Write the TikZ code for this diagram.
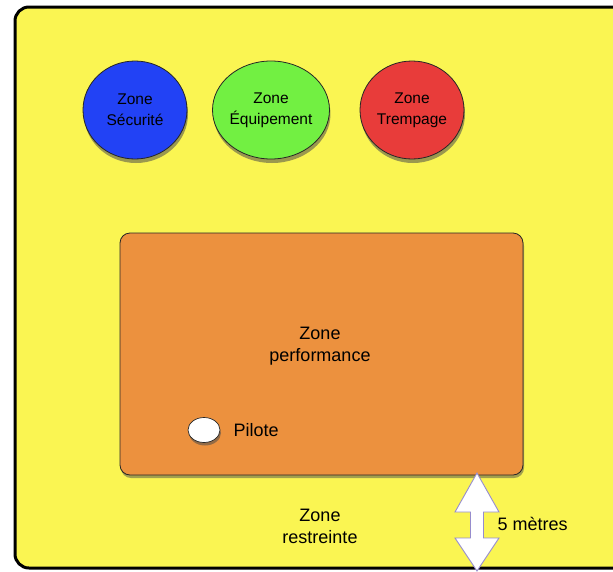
\documentclass[tikz,border=0pt]{standalone}
\usepackage{fontspec}
\setmainfont{Liberation Sans}
\usetikzlibrary{shadows}
\definecolor{bgyellow}{RGB}{250,245,82}
\definecolor{zblue}{RGB}{34,66,245}
\definecolor{zgreen}{RGB}{114,240,66}
\definecolor{zred}{RGB}{232,60,58}
\definecolor{zorange}{RGB}{236,145,62}
\definecolor{arrowline}{RGB}{150,140,205}
\tikzset{
  zonecircle/.style={ellipse, draw=black!85, line width=0.8pt, minimum width=104pt, minimum height=98pt, inner sep=0pt, align=center,
     font=\fontsize{15.5}{21}\selectfont, drop shadow={shadow xshift=1pt, shadow yshift=-4pt, opacity=0.55, fill=black!70}},
  bigtext/.style={align=center, font=\fontsize{18}{22}\selectfont},
}
\usetikzlibrary{shapes.geometric}
\begin{document}
\begin{tikzpicture}[x=1pt,y=-1pt]
\useasboundingbox (0,0) rectangle (613,571);
\begin{scope}
\clip (0,0) rectangle (613,571);
\draw[fill=bgyellow, line width=3pt, rounded corners=14pt] (15,7) rectangle (650,568);
\end{scope}
\node[zonecircle, fill=zblue] (secu) at (135,110) {Zone\\Sécurité};
\node[zonecircle, fill=zgreen] (equip) at (271,110) {Zone\\Équipement};
\node[zonecircle, fill=zred] (tremp) at (412,110) {Zone\\Trempage};
\node[draw=black!85, line width=0.8pt, fill=zorange, rounded corners=10pt, minimum width=403pt, minimum height=242pt,
      drop shadow={shadow xshift=1pt, shadow yshift=-3pt, opacity=0.5, fill=black!70}] (perf) at (321.5,354) {};
\node[bigtext] (perftext) at (320,346) {Zone\\performance};
\node[ellipse, draw=black!85, line width=0.7pt, fill=white, minimum width=32pt, minimum height=25pt, inner sep=0pt,
      drop shadow={shadow xshift=1pt, shadow yshift=-3pt, opacity=0.55, fill=black!70}] (pilot) at (204,430) {};
\node[bigtext, anchor=west] (pilottext) at (230,430) {Pilote};
\node[bigtext] (restr) at (320,526) {Zone\\restreinte};
\coordinate (atop) at (477,473);
\coordinate (abot) at (477,571);
\draw[fill=white, draw=arrowline, line width=0.9pt, line join=miter]
  (atop) -- ++(22,39) -- ++(-15.5,0) -- ++(0,26) -- ++(15.5,0) -- (abot)
  -- ++(-22,-33) -- ++(15.5,0) -- ++(0,-26) -- ++(-15.5,0) -- cycle;
\node[bigtext, anchor=west] (dist) at (494,524) {5 mètres};
\end{tikzpicture}
\end{document}
